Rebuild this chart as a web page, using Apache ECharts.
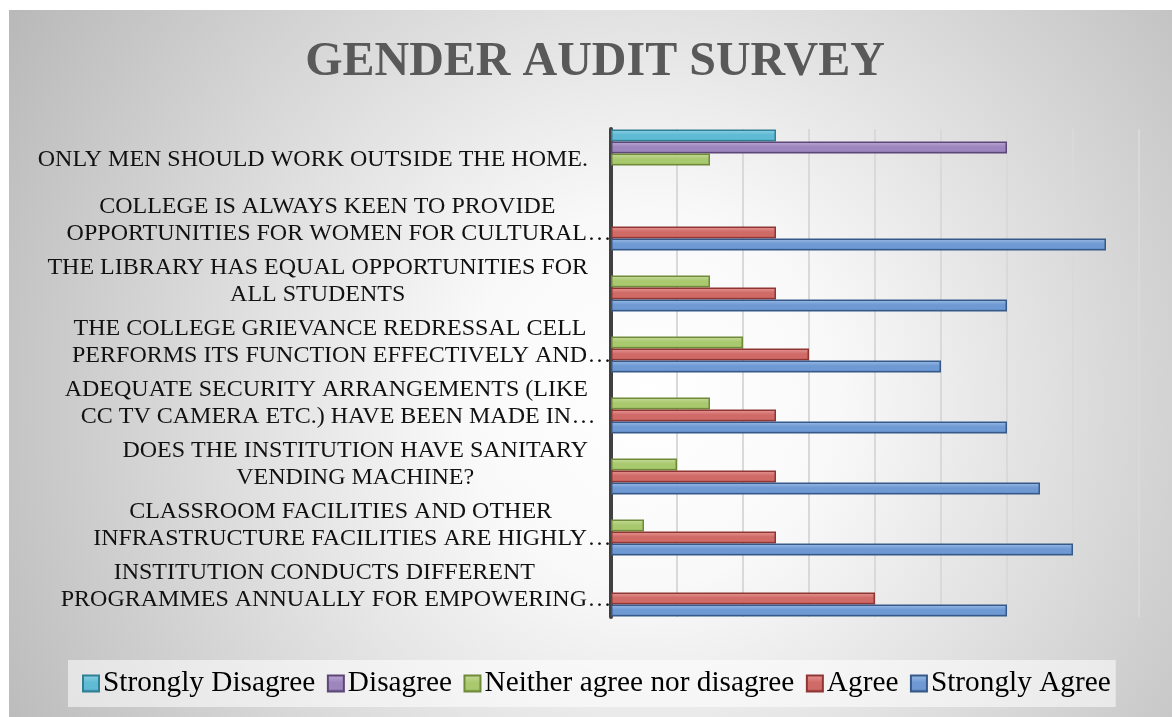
<!DOCTYPE html>
<html>
<head>
<meta charset="utf-8">
<script src="https://cdn.jsdelivr.net/npm/echarts@6/dist/echarts.min.js"></script>
<style>
html,body{margin:0;padding:0;background:#fff;}
#chart{width:1172px;height:717px;}
</style>
</head>
<body>
<div id="chart"></div>
<script>
// Categories listed bottom -> top (ECharts category y axis starts at the bottom)
const categories = [
  "INSTITUTION CONDUCTS DIFFERENT\nPROGRAMMES ANNUALLY FOR EMPOWERING…",
  "CLASSROOM FACILITIES AND OTHER\nINFRASTRUCTURE FACILITIES ARE HIGHLY…",
  "DOES THE INSTITUTION HAVE SANITARY\nVENDING MACHINE?",
  "ADEQUATE SECURITY ARRANGEMENTS (LIKE\nCC TV CAMERA ETC.) HAVE BEEN MADE IN…",
  "THE COLLEGE GRIEVANCE REDRESSAL CELL\nPERFORMS ITS FUNCTION EFFECTIVELY AND…",
  "THE LIBRARY HAS EQUAL OPPORTUNITIES FOR\nALL STUDENTS",
  "COLLEGE IS ALWAYS KEEN TO PROVIDE\nOPPORTUNITIES FOR WOMEN FOR CULTURAL…",
  "ONLY MEN SHOULD WORK OUTSIDE THE HOME."
];
const seriesNames = ["Strongly Disagree", "Disagree", "Neither agree nor disagree", "Agree", "Strongly Agree"];
const stronglyDisagree = [null, null, null, null, null, null, null, 2.5];
const disagree         = [null, null, null, null, null, null, null, 6];
const neither          = [null, 0.5, 1, 1.5, 2, 1.5, null, 1.5];
const agree            = [4, 2.5, 2.5, 2.5, 3, 2.5, 2.5, null];
const stronglyAgree    = [6, 7, 6.5, 6, 5, 6, 7.5, null];
const titleText = "GENDER AUDIT SURVEY";

const palette = [
  {light:'#8fd3e6', body:'#5fbad3', dark:'#31859c', border:'#2f7f95'},
  {light:'#bcaad6', body:'#9d86bd', dark:'#5f497a', border:'#5c4776'},
  {light:'#c8dc9e', body:'#a9c96e', dark:'#76923c', border:'#6f8a38'},
  {light:'#e89a98', body:'#cf6a67', dark:'#943634', border:'#8f3533'},
  {light:'#9dbde6', body:'#6e99d3', dark:'#365f91', border:'#36598a'}
];
const values = [stronglyDisagree, disagree, neither, agree, stronglyAgree];

function grad(p){
  return new echarts.graphic.LinearGradient(0,0,0,1,[
    {offset:0, color:p.light},
    {offset:0.45, color:p.body},
    {offset:0.8, color:p.body},
    {offset:1, color:p.dark}
  ]);
}

const series = seriesNames.map((n,i)=>({
  name:n,
  type:'bar',
  data:values[i],
  barWidth:12,
  barGap:'0%',
  itemStyle:{color:grad(palette[i]), borderColor:palette[i].border, borderWidth:1.5}
}));

const labelFont = {fontFamily:'Liberation Serif', fontSize:24, lineHeight:27, color:'#111', align:'center'};

const chart = echarts.init(document.getElementById('chart'));
chart.setOption({
  backgroundColor:'#ffffff',
  animation:false,
  graphic:[{
    type:'rect', z:-10, silent:true,
    shape:{x:9,y:10,width:1163,height:707},
    style:{fill:new echarts.graphic.RadialGradient(0.55,0.55,1.05,[
      {offset:0,color:'#ffffff'},
      {offset:0.25,color:'#f9f9f9'},
      {offset:1,color:'#b9b9b9'}
    ])}
  }],
  title:{
    text:titleText, left:590, top:34, textAlign:'center',
    textStyle:{fontFamily:'Liberation Serif', fontWeight:'bold', fontSize:48, color:'#595959'}
  },
  legend:{
    data:seriesNames,
    left:68, top:660,
    padding:[9,5,9,14],
    itemWidth:16, itemHeight:16, itemGap:11.5,
    backgroundColor:'rgba(255,255,255,0.55)',
    icon:'rect',
    textStyle:{fontFamily:'Liberation Serif', fontSize:29.3, color:'#000', padding:[4,0,0,-1]}
  },
  grid:{left:611, top:129, width:528, height:488, containLabel:false},
  xAxis:{
    type:'value', min:0, max:8, interval:1,
    axisLabel:{show:false}, axisTick:{show:false}, axisLine:{show:false},
    splitLine:{show:true, lineStyle:{color:'#d9d9d9', width:2}}
  },
  yAxis:{
    type:'category', data:categories, offset:3,
    axisTick:{show:false},
    axisLine:{show:true, lineStyle:{color:'#404040', width:4}},
    axisLabel:{
      margin:20, align:'right',
      formatter:function(v){
        return v.split('\n').map(function(line){
          if(line.endsWith('…')) return '{a|'+line.slice(0,-1)+'}{e|\u2003…}';
          return '{a|'+line+'}';
        }).join('\n');
      },
      rich:{
        a:labelFont,
        e:Object.assign({}, labelFont, {width:1})
      }
    }
  },
  series:series
});
</script>
</body>
</html>
